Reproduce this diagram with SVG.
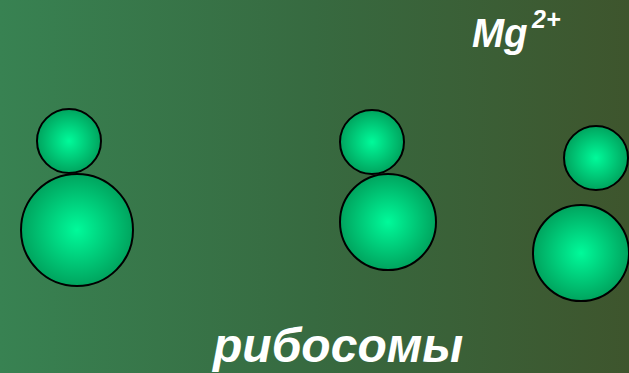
<svg xmlns="http://www.w3.org/2000/svg" width="629" height="373" viewBox="0 0 629 373">
  <defs>
    <linearGradient id="bg" x1="0" y1="0" x2="1" y2="0">
      <stop offset="0" stop-color="#388252"/>
      <stop offset="0.5" stop-color="#376a40"/>
      <stop offset="1" stop-color="#3e552d"/>
    </linearGradient>
    <radialGradient id="ball" cx="0.5" cy="0.5" r="0.5">
      <stop offset="0" stop-color="#00fa9a"/>
      <stop offset="1" stop-color="#00a45e"/>
    </radialGradient>
    <style>
      .sub { fill: url(#ball); stroke: #000; stroke-width: 2; }
      .label { fill: #fff; font-family: "Liberation Sans", Arial, sans-serif; font-weight: bold; font-style: italic; }
    </style>
  </defs>

  <rect width="629" height="373" fill="url(#bg)"/>

  <!-- assembled ribosome -->
  <g id="ribosome-1">
    <circle class="sub" cx="69" cy="141" r="32"/>
    <circle class="sub" cx="77" cy="230" r="56"/>
  </g>

  <!-- ribosome, middle -->
  <g id="ribosome-2">
    <circle class="sub" cx="372" cy="142" r="32"/>
    <circle class="sub" cx="388" cy="222" r="48"/>
  </g>

  <!-- dissociated subunits -->
  <g id="ribosome-3">
    <circle class="sub" cx="596" cy="158" r="32"/>
    <circle class="sub" cx="581" cy="253" r="48"/>
  </g>

  <g id="ion-label">
    <text class="label" x="472" y="47" font-size="41" transform="translate(472 0) scale(0.94 1) translate(-472 0)">Mg</text>
    <text class="label" x="532" y="28" font-size="25">2+</text>
  </g>

  <g id="caption">
    <text class="label" x="213" y="362" font-size="48">рибосомы</text>
  </g>
</svg>
